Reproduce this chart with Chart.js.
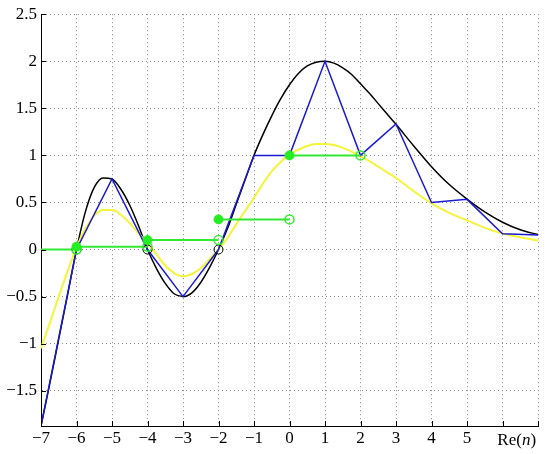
<!DOCTYPE html>
<html>
<head>
<meta charset="utf-8">
<script src="https://cdn.jsdelivr.net/npm/chart.js@4"></script>
<style>
    html, body { margin: 0; padding: 0; background: #fff; }
    #wrap { width: 550px; height: 454px; }
</style>
</head>
<body>
<div id="wrap"><canvas id="chart"></canvas></div>
<script>
// smooth curves
const curveX = [-7, -6.75, -6.5, -6.25, -6, -5.75, -5.5, -5.25, -5, -4.75, -4.5, -4.25, -4,
    -3.75, -3.5, -3.25, -3, -2.75, -2.5, -2.25, -2, -1.75, -1.5, -1.25, -1, -0.75, -0.5, -0.25, 0,
    0.25, 0.5, 0.75, 1, 1.25, 1.5, 1.75, 2, 2.25, 2.5, 2.75, 3, 3.5, 4, 4.5, 5, 5.5, 6, 6.5, 7];
const blackY = [-1.875, -1.42, -0.95, -0.48, 0, 0.4, 0.66, 0.76, 0.75, 0.64, 0.47, 0.25, 0,
    -0.2, -0.36, -0.47, -0.5, -0.46, -0.35, -0.19, 0, 0.22, 0.48, 0.74, 1.0, 1.22, 1.42, 1.6, 1.75,
    1.87, 1.95, 1.99, 2.0, 1.98, 1.93, 1.86, 1.76, 1.66, 1.55, 1.44, 1.33, 1.1, 0.88, 0.69, 0.536, 0.4, 0.29, 0.21, 0.158];
const yellowY = [-1.05, -0.78, -0.5, -0.23, 0.02, 0.22, 0.36, 0.42, 0.42, 0.37, 0.28, 0.17, 0.07,
    -0.05, -0.17, -0.25, -0.285, -0.26, -0.2, -0.1, 0, 0.12, 0.27, 0.41, 0.55, 0.7, 0.83, 0.93, 1.01,
    1.06, 1.1, 1.12, 1.12, 1.11, 1.08, 1.04, 0.99, 0.94, 0.88, 0.82, 0.76, 0.62, 0.49, 0.39, 0.31, 0.23, 0.17, 0.13, 0.095];

// values at the integers (blue polyline)
const intX = [-7, -6, -5, -4, -3, -2, -1, 0, 1, 2, 3, 4, 5, 6, 7];
const blueY = [-1.875, 0, 0.75, 0, -0.5, 0, 1, 1, 2, 1, 1.333, 0.5, 0.533, 0.167, 0.155];

// green step function
const stepStart = [-7, -6, -4, -2, 0];
const stepEnd = [-6, -4, -2, 0, 2];
const stepLevel = [0, 0.03, 0.1, 0.32, 1.0];

// black open circles
const zeroX = [-6, -4, -2];

const xTicks = [-7, -6, -5, -4, -3, -2, -1, 0, 1, 2, 3, 4, 5, 6, 7];
const yTicks = [-1.5, -1, -0.5, 0, 0.5, 1, 1.5, 2, 2.5];

const FONT = '"Liberation Serif", "DejaVu Serif", serif';

const pts = (xs, ys) => xs.map((x, i) => ({ x: x, y: ys[i] }));

const stepLine = [];
stepStart.forEach((s, i) => {
    stepLine.push({ x: s, y: stepLevel[i] });
    stepLine.push({ x: stepEnd[i], y: stepLevel[i] });
    stepLine.push({ x: stepEnd[i], y: null });
});
const filledDots = stepStart.slice(1).map((s, i) => ({ x: s, y: stepLevel[i + 1] }));
const openDots = stepEnd.map((e, i) => ({ x: e, y: stepLevel[i] }));

// MATLAB style inward ticks + Re(n) label
const extras = {
    id: 'extras',
    afterDraw(chart) {
        const ctx = chart.ctx;
        const xs = chart.scales.x, ys = chart.scales.y;
        const a = chart.chartArea;
        ctx.save();
        ctx.strokeStyle = '#000';
        ctx.lineWidth = 1;
        ctx.beginPath();
        xTicks.forEach(v => {
            const px = Math.round(xs.getPixelForValue(v)) + 0.5;
            ctx.moveTo(px, a.bottom);
            ctx.lineTo(px, a.bottom - 5);
        });
        yTicks.forEach(v => {
            const py = Math.round(ys.getPixelForValue(v)) + 0.5;
            ctx.moveTo(a.left, py);
            ctx.lineTo(a.left + 5, py);
        });
        ctx.stroke();

        // "Re(n)" with italic n, sits a bit right of x = 6
        const cx = xs.getPixelForValue(6.4);
        const y = a.bottom + 15;
        const normal = '17px ' + FONT, italic = 'italic 17px ' + FONT;
        ctx.fillStyle = '#000';
        ctx.textBaseline = 'middle';
        ctx.textAlign = 'left';
        ctx.font = normal;
        const w1 = ctx.measureText('Re(').width, w3 = ctx.measureText(')').width;
        ctx.font = italic;
        const w2 = ctx.measureText('n').width;
        let x0 = cx - (w1 + w2 + w3) / 2;
        ctx.font = normal; ctx.fillText('Re(', x0, y);
        ctx.font = italic; ctx.fillText('n', x0 + w1, y);
        ctx.font = normal; ctx.fillText(')', x0 + w1 + w2, y);
        ctx.restore();
    }
};

const fmt = v => (v < 0 ? '\u2212' : '') + String(Math.abs(v));

new Chart(document.getElementById('chart'), {
    type: 'line',
    data: {
        datasets: [
            {   // filled step dots
                data: filledDots, showLine: false,
                pointRadius: 4.5, pointBackgroundColor: '#22ee22', pointBorderColor: '#22ee22', pointBorderWidth: 1
            },
            {   // open step ends
                data: openDots, showLine: false,
                pointRadius: 4.5, pointBackgroundColor: 'rgba(255,255,255,0)', pointBorderColor: '#33e833', pointBorderWidth: 1.5
            },
            {   // black zeros
                data: zeroX.map(x => ({ x: x, y: 0 })), showLine: false,
                pointRadius: 4.5, pointBackgroundColor: 'rgba(255,255,255,0)', pointBorderColor: '#000', pointBorderWidth: 1
            },
            {
                data: stepLine, borderColor: '#33e833', borderWidth: 2, pointRadius: 0, spanGaps: false
            },
            {
                data: pts(intX, blueY), borderColor: '#1a1ad0', borderWidth: 1.5, pointRadius: 0, tension: 0
            },
            {
                data: pts(curveX, yellowY), borderColor: '#f4f43a', borderWidth: 2, pointRadius: 0,
                cubicInterpolationMode: 'monotone'
            },
            {
                data: pts(curveX, blackY), borderColor: '#000', borderWidth: 1.5, pointRadius: 0,
                cubicInterpolationMode: 'monotone'
            }
        ]
    },
    options: {
        responsive: true,
        maintainAspectRatio: false,
        animation: false,
        events: [],
        layout: { padding: { top: 13, right: 12, left: 0, bottom: 0 } },
        plugins: {
            legend: { display: false },
            tooltip: { enabled: false }
        },
        scales: {
            x: {
                type: 'linear',
                min: -7, max: 7,
                afterBuildTicks: s => { s.ticks = xTicks.map(v => ({ value: v })); },
                afterFit: s => { s.height = 28; },
                ticks: {
                    font: { family: FONT, size: 17 },
                    color: '#000',
                    padding: 2,
                    maxRotation: 0,
                    autoSkip: false,
                    callback: v => (v >= 6 ? '' : fmt(v))
                },
                grid: { color: '#888', lineWidth: 1, drawTicks: false },
                border: { color: '#000', width: 1, dash: [1, 3] }
            },
            y: {
                type: 'linear',
                min: -1.875, max: 2.5,
                afterBuildTicks: s => { s.ticks = yTicks.map(v => ({ value: v })); },
                afterFit: s => { s.width = 41; },
                ticks: {
                    font: { family: FONT, size: 17 },
                    color: '#000',
                    padding: 4,
                    autoSkip: false,
                    callback: v => fmt(v)
                },
                grid: { color: '#888', lineWidth: 1, drawTicks: false },
                border: { color: '#000', width: 1, dash: [1, 3] }
            }
        }
    },
    plugins: [extras]
});
</script>
</body>
</html>
